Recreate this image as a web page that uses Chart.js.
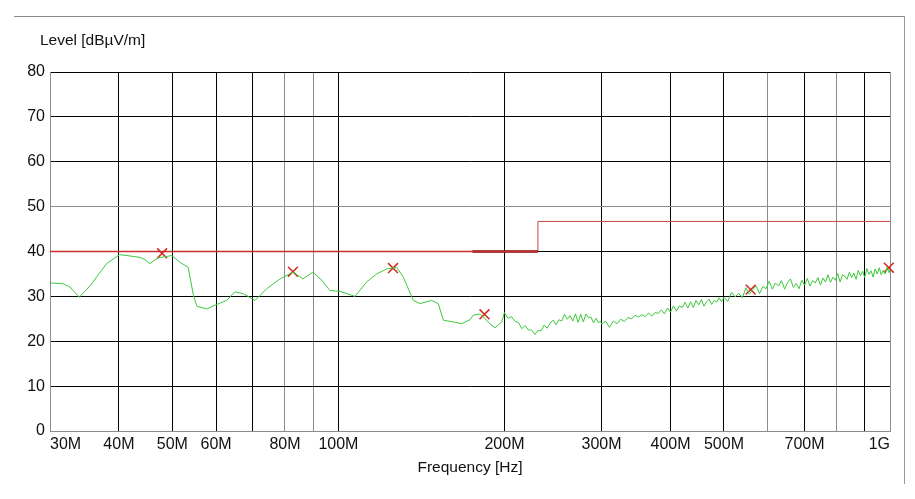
<!DOCTYPE html>
<html>
<head>
<meta charset="utf-8">
<script src="https://cdn.jsdelivr.net/npm/chart.js@4.4.1/dist/chart.umd.min.js"></script>
<style>
  html, body { margin: 0; padding: 0; background: #fff; }
  #wrap { position: relative; width: 915px; height: 499px; }
  #frame { position: absolute; left: 14px; top: 16px; width: 890px; height: 467px;
           border-top: 1px solid #8a8a8a; border-right: 1px solid #9a9a9a; }
  canvas { position: absolute; left: 0; top: 0; }
</style>
</head>
<body>
<div id="wrap">
  <div id="frame"></div>
  <canvas id="chart1" width="915" height="499"></canvas>
</div>
<script>
// ****************data*******************
// measured trace, frequency in MHz / level in dBuV/m
var traceFreq = [
  30.0, 31.7, 32.6, 33.9, 35.5, 37.2, 38.0, 40.1, 41.9, 43.7, 44.6, 45.5, 47.1, 49.9,
  51.6, 53.4, 54.6, 55.4, 57.7, 60.2, 62.7, 64.9, 67.2, 70.6, 74.1, 78.4, 82.7, 86.2,
  89.9, 93.3, 96.5, 100.7, 107.2, 112.5, 117.3, 122.3, 127.5, 131.1, 136.7, 140.6,
  147.6, 151.7, 155.0, 161.6, 167.3, 173.2, 175.6, 180.6, 188.3, 192.3, 197.7,
  200, 203, 206, 209, 212, 215, 218, 221, 224, 227, 230, 233, 236, 239, 242, 245, 248,
  251, 254, 257, 260, 263, 266, 269, 272, 275, 278, 281, 284, 287, 290, 293, 296, 299,
  300, 305, 310, 315, 320, 325, 330, 335, 340, 345, 350, 355, 360, 365, 370, 375, 380,
  385, 390, 395, 400, 405, 410, 415, 420, 425, 430, 435, 440, 445, 450, 455, 460, 465,
  470, 475, 480, 485, 490, 495,
  500, 508, 516, 524, 532, 540, 548, 556, 564, 572, 580, 588, 596, 604, 612, 620, 628,
  636, 644, 652, 660, 668, 676, 684, 692, 700, 708, 716, 724, 732, 740, 748, 756, 764,
  772, 780, 788, 796, 804, 812, 820, 828, 836, 844, 852, 860, 868, 876, 884, 892, 900,
  908, 916, 924, 932, 940, 948, 956, 964, 972, 980, 988, 996, 1000
];
var traceLevel = [
  33.0, 32.8, 32.1, 29.8, 32.4, 35.8, 37.3, 39.3, 39.0, 38.7, 38.2, 37.3, 38.6, 39.1,
  37.6, 36.5, 30.2, 27.8, 27.2, 28.2, 29.1, 31.0, 30.6, 29.1, 31.7, 33.9, 35.4, 33.9,
  35.4, 33.6, 31.3, 31.1, 30.0, 33.2, 35.0, 36.1, 36.5, 34.3, 29.1, 28.4,
  29.1, 28.4, 24.7, 24.3, 23.9, 24.8, 25.8, 26.1, 23.9, 23.0, 24.3,
  26.4, 25.1, 25.5, 24.4, 24.2, 22.8, 23.5, 22.5, 22.5, 21.5, 22.4, 22.3, 23.6, 22.9, 24.0, 24.7, 23.7,
  24.8, 24.5, 26.0, 24.9, 25.7, 24.5, 26.1, 24.2, 26.0, 24.3, 26.1, 25.2, 25.4, 24.1, 25.1, 24.2, 24.4,
  23.8, 24.5, 23.1, 24.5, 23.9, 24.9, 24.4, 25.3, 25.0, 25.8, 25.4, 25.9, 25.5, 26.3, 25.6, 26.4, 26.2,
  27.0, 26.1, 27.4, 26.5, 27.9, 26.7, 27.9, 27.5, 28.7, 27.4, 28.8, 27.5, 29.1, 28.1, 29.3, 27.8, 28.8,
  29.4, 28.2, 29.1, 28.7, 29.7, 28.8,
  29.8, 28.9, 30.9, 29.9, 30.7, 29.7, 31.9, 30.5, 31.5, 32.3, 30.6, 32.2, 31.7, 33.4, 31.6, 33.0, 32.3,
  33.5, 31.6, 33.1, 33.9, 32.0, 32.9, 31.7, 33.6, 32.5, 34.0, 32.3, 33.5, 33.0, 34.2, 32.5, 34.1, 33.2,
  34.8, 33.1, 34.3, 33.6, 35.1, 33.2, 34.8, 34.5, 33.8, 35.4, 34.2, 35.2, 33.8, 35.8, 34.6, 35.6, 34.2,
  36.2, 34.9, 35.7, 34.3, 36.1, 35.0, 36.4, 34.8, 35.8, 35.0, 36.5, 35.3, 36.0
];

// limit lines
var limitLowFreq = [30, 230];
var limitLowLevel = [40, 40];
var limitDarkFreq = [175, 230];
var limitDarkLevel = [40, 40];
var limitHighFreq = [230, 230, 1000];
var limitHighLevel = [40, 46.7, 46.7];

// peak markers
var peakFreq = [47.9, 82.7, 125.6, 184, 559, 995];
var peakLevel = [39.6, 35.5, 36.3, 26.0, 31.5, 36.4];

// x axis ticks
var xTicks = [30, 40, 50, 60, 70, 80, 90, 100, 200, 300, 400, 500, 600, 700, 800, 900, 1000];
var xTickLabels = ['30M', '40M', '50M', '60M', '', '80M', '', '100M', '200M', '300M', '400M', '500M', '', '700M', '', '', '1G'];
var xLightTicks = [30, 80, 90, 600, 800, 1000];
var yLightTicks = [0, 50];

function pts(xs, ys) {
  return xs.map(function (x, i) { return { x: x, y: ys[i] }; });
}

var font = "'Liberation Sans', Arial, sans-serif";

var ctx = document.getElementById('chart1').getContext('2d');
var chart = new Chart(ctx, {
  type: 'line',
  data: {
    datasets: [
      {
        label: 'Limit',
        data: pts(limitLowFreq, limitLowLevel),
        borderColor: 'rgb(205, 45, 45)',
        borderWidth: 1.5,
        pointRadius: 0
      },
      {
        label: 'Limit 2',
        data: pts(limitDarkFreq, limitDarkLevel),
        borderColor: 'rgb(110, 10, 10)',
        borderWidth: 2.5,
        pointRadius: 0
      },
      {
        label: 'Limit 3',
        data: pts(limitHighFreq, limitHighLevel),
        borderColor: 'rgb(205, 70, 70)',
        borderWidth: 1,
        pointRadius: 0
      },
      {
        label: 'Level',
        data: pts(traceFreq, traceLevel),
        borderColor: 'rgb(60, 200, 60)',
        borderWidth: 1,
        pointRadius: 0,
        tension: 0
      },
      {
        label: 'Peaks',
        data: pts(peakFreq, peakLevel),
        showLine: false,
        clip: false,
        pointStyle: 'crossRot',
        pointRadius: 7,
        pointBorderWidth: 1.5,
        pointBorderColor: 'rgb(215, 40, 30)'
      }
    ]
  },
  options: {
    responsive: false,
    animation: false,
    devicePixelRatio: 1,
    layout: { padding: { left: 27, right: 25, top: 0, bottom: 0 } },
    plugins: {
      legend: { display: false },
      tooltip: { enabled: false },
      title: {
        display: true,
        text: '   Level [dB\u00b5V/m]',
        align: 'start',
        color: '#111',
        font: { family: font, size: 15.5, weight: 'normal' },
        padding: { top: 31, bottom: 22.4 }
      }
    },
    scales: {
      x: {
        type: 'logarithmic',
        min: 30,
        max: 1000,
        afterBuildTicks: function (scale) {
          scale.ticks = xTicks.map(function (v) { return { value: v }; });
        },
        afterFit: function (scale) { scale.height = 68; },
        ticks: {
          autoSkip: false,
          maxRotation: 0,
          align: 'inner',
          padding: 4,
          color: '#111',
          font: { family: font, size: 16 },
          callback: function (value) {
            var i = xTicks.indexOf(value);
            return i >= 0 ? xTickLabels[i] : '';
          }
        },
        grid: {
          drawTicks: false,
          lineWidth: 1,
          color: function (c) {
            return xLightTicks.indexOf(c.tick.value) >= 0 ? '#8c8c8c' : '#000';
          }
        },
        border: { color: '#8c8c8c', width: 1 },
        title: {
          display: true,
          text: 'Frequency [Hz]',
          color: '#111',
          font: { family: font, size: 15.5 },
          padding: { top: 0, bottom: 21.7 }
        }
      },
      y: {
        min: 0,
        max: 80,
        afterFit: function (scale) { scale.width = 23; },
        ticks: {
          stepSize: 10,
          padding: 5,
          color: '#111',
          font: { family: font, size: 16 }
        },
        grid: {
          drawTicks: false,
          lineWidth: 1,
          color: function (c) {
            return yLightTicks.indexOf(c.tick.value) >= 0 ? '#8c8c8c' : '#000';
          }
        },
        border: { color: '#8c8c8c', width: 1 }
      }
    }
  }
});
</script>
</body>
</html>
